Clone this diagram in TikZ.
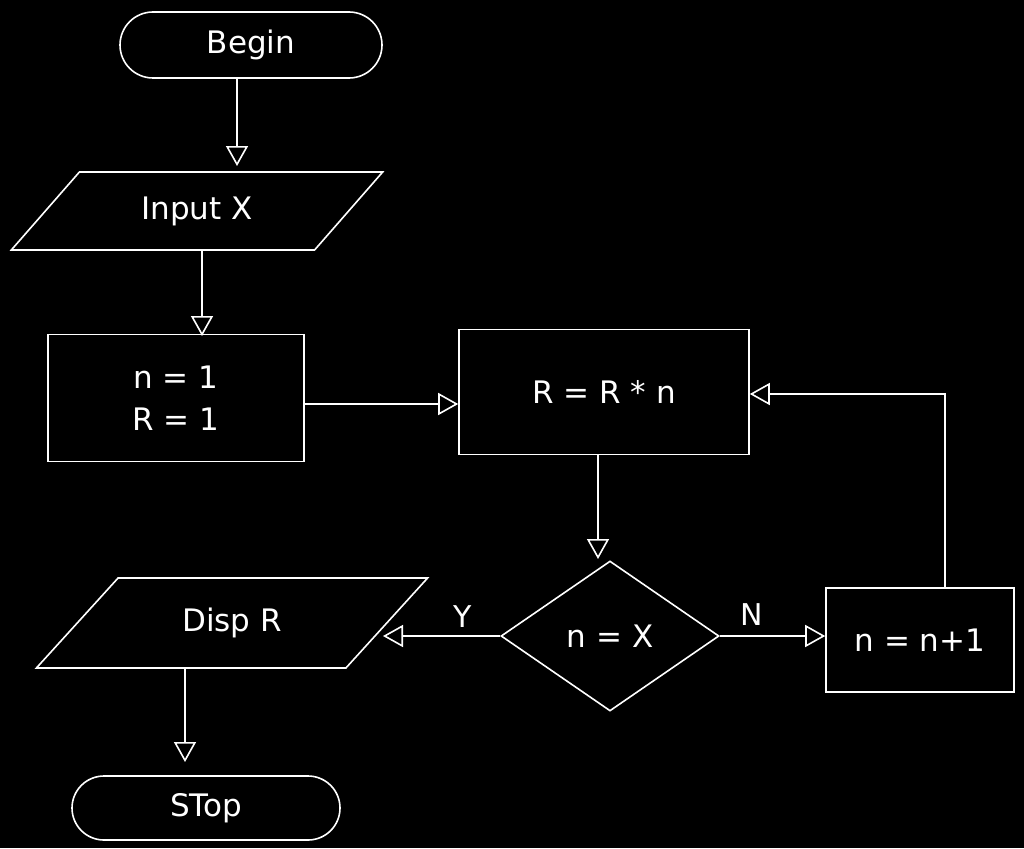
\documentclass[tikz,border=0pt]{standalone}
\usepackage{fontspec}
\setmainfont{DejaVu Sans}
\usetikzlibrary{arrows.meta,shapes.geometric,shapes.misc}
\begin{document}
\begin{tikzpicture}[x=1pt,y=-1pt,
  lbl/.style={text=white,font=\fontsize{30}{36}\selectfont},
  arr/.style={draw=white,line width=1.6pt,-{Triangle[open,length=20pt,width=22pt]}},
  base/.style={draw=white,line width=1.6pt,inner sep=0pt,text=white,font=\fontsize{31}{38}\selectfont},
  term/.style={base,rounded rectangle},
  boxn/.style={base,rectangle,align=center},
  io/.style={base,trapezium,trapezium stretches=true},
  dec/.style={base,diamond,aspect=1.45}]
\fill[black] (0,0) rectangle (1024,848);
\useasboundingbox (0,0) rectangle (1024,848);
\node[term,minimum width=262pt,minimum height=66pt] (begin) at (251,45) {Begin};
\node[io,minimum width=372pt,minimum height=78pt,trapezium left angle=42,trapezium right angle=138] (input) at (197,211) {Input X};
\node[boxn,minimum width=256pt,minimum height=127pt] (init) at (176,398) {n = 1\\[4pt]R = 1};
\node[boxn,minimum width=290pt,minimum height=125pt] (mult) at (604,392) {R = R * n};
\node[dec,minimum width=218pt,minimum height=150pt] (cond) at (610,636) {n = X};
\node[boxn,minimum width=188pt,minimum height=104pt] (inc) at (920,640) {n = n+1};
\node[io,minimum width=392pt,minimum height=90pt,trapezium left angle=40,trapezium right angle=140] (disp) at (232,623) {Disp R};
\node[term,minimum width=268pt,minimum height=64pt] (stop) at (206,808) {STop};
\draw[arr] (begin.south -| 237,0) -- (237,166);
\draw[arr] (input.south -| 202,0) -- (202,336);
\draw[arr] (init.east |- 0,404) -- (mult.west |- 0,404);
\draw[arr] (mult.south -| 598,0) -- (598,559);
\draw[arr] (cond.west) -- (383,636) node[lbl,pos=0.32,above=4pt] {Y};
\draw[arr] (cond.east) -- (inc.west |- cond.east) node[lbl,pos=0.3,above=6pt] {N};
\coordinate (c1) at (945,394);
\draw[arr] (inc.north -| 945,0) -- (c1) -- (mult.east |- c1);
\draw[arr] (disp.south -| 185,0) -- (185,762);
\end{tikzpicture}
\end{document}
